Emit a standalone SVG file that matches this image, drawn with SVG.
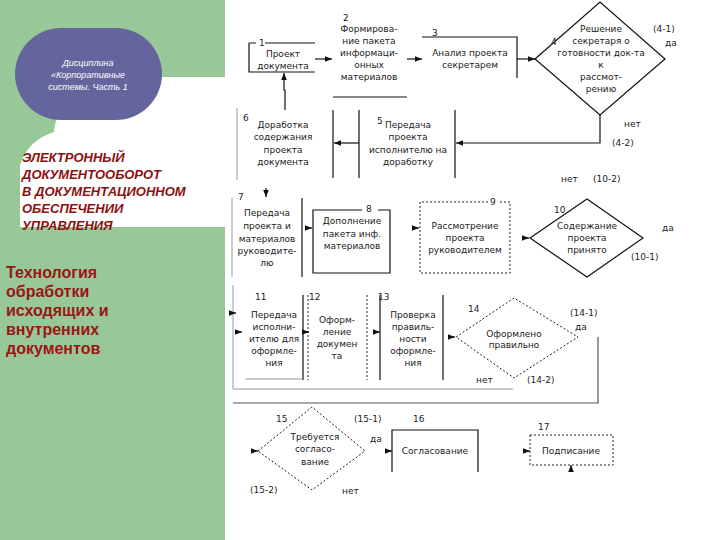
<svg xmlns="http://www.w3.org/2000/svg" width="720" height="540" viewBox="0 0 720 540">
<defs>
<style>
.t{font-family:"DejaVu Sans",Verdana,sans-serif;font-size:9px;fill:#222;text-anchor:middle}
.n{font-family:"DejaVu Sans",Verdana,sans-serif;font-size:9px;fill:#222}
.s{fill:none;stroke:#111;stroke-width:1.2}
.f{fill:none;stroke:#999;stroke-width:1}
.d{fill:none;stroke:#222;stroke-width:1;stroke-dasharray:2,2}
.c{fill:none;stroke:#111;stroke-width:1.2}
.h{font-family:"Liberation Sans",Arial,sans-serif;font-size:13px;font-weight:bold;font-style:italic;fill:#8b1010}
.b{font-family:"Liberation Sans",Arial,sans-serif;font-size:16px;font-weight:bold;fill:#9b1515}
.w{font-family:"Liberation Sans",Arial,sans-serif;font-size:9px;font-style:italic;fill:#fff;text-anchor:middle}
</style>
<marker id="a" viewBox="0 0 10 10" refX="10" refY="5" markerWidth="6" markerHeight="6" orient="auto"><path d="M0,1 L10,5 L0,9 Z" fill="#111"/></marker>
</defs>
<rect x="0" y="0" width="720" height="540" fill="#fff"/>
<g id="left-panel">
<rect x="0" y="0" width="225" height="540" fill="#98c898"/>
<path d="M225,77 H105 C75,77 57,105 54,132 Q28,140 20,165 V227 H225 Z" fill="#fff"/>
<rect x="15" y="28" width="147" height="92" rx="46" ry="46" fill="#65659d"/>
<text class="w" x="88" y="66">Дисциплина</text>
<text class="w" x="88" y="78">«Корпоративные</text>
<text class="w" x="88" y="90">системы. Часть 1</text>
<text class="h" x="22" y="162">ЭЛЕКТРОННЫЙ</text>
<text class="h" x="22" y="179">ДОКУМЕНТООБОРОТ</text>
<text class="h" x="22" y="196">В ДОКУМЕНТАЦИОННОМ</text>
<text class="h" x="22" y="213">ОБЕСПЕЧЕНИИ</text>
<text class="h" x="22" y="230">УПРАВЛЕНИЯ</text>
<text class="b" x="6" y="278">Технология</text>
<text class="b" x="6" y="297">обработки</text>
<text class="b" x="6" y="316">исходящих и</text>
<text class="b" x="6" y="335">внутренних</text>
<text class="b" x="6" y="354">документов</text>
</g>
<g id="frames">
<path class="f" d="M233,285 V389 H513"/>
<path class="f" d="M233,403 H598 V337" style="stroke:#555;stroke-width:1.2"/>
</g>
<g id="node1">
<path class="s" d="M265,43 H315 M249,43 H256 M249,43 V72 H315"/>
<text class="n" x="259" y="46">1</text>
<text class="t" x="283" y="57">Проект</text>
<text class="t" x="283" y="69">документа</text>
</g>
<g id="node2">
<path class="s" d="M333,97 H407"/>
<text class="n" x="343" y="21">2</text>
<text class="t" x="369" y="32">Формирова-</text>
<text class="t" x="369" y="44">ние пакета</text>
<text class="t" x="369" y="56">информаци-</text>
<text class="t" x="369" y="68">онных</text>
<text class="t" x="369" y="80">материалов</text>
</g>
<g id="node3">
<path class="s" d="M422,37 H517 V78"/>
<text class="n" x="432" y="36">3</text>
<text class="t" x="470" y="56">Анализ проекта</text>
<text class="t" x="470" y="68">секретарем</text>
</g>
<g id="node4">
<path class="s" d="M535,59 L600,2 L665,59 L600,115 Z"/>
<text class="n" x="551" y="45">4</text>
<text class="t" x="601" y="32">Решение</text>
<text class="t" x="601" y="44">секретаря о</text>
<text class="t" x="601" y="56">готовности док-та</text>
<text class="t" x="601" y="68">к</text>
<text class="t" x="601" y="80">рассмот-</text>
<text class="t" x="601" y="92">рению</text>
<text class="n" x="653" y="32">(4-1)</text>
<text class="n" x="665" y="46">да</text>
<text class="n" x="624" y="127">нет</text>
<text class="n" x="612" y="146">(4-2)</text>
</g>
<g id="node5">
<path class="s" d="M359,110 V178 M455,110 V178"/>
<text class="n" x="377" y="124">5</text>
<text class="t" x="408" y="128">Передача</text>
<text class="t" x="408" y="140">проекта</text>
<text class="t" x="408" y="153">исполнителю на</text>
<text class="t" x="408" y="165">доработку</text>
</g>
<g id="node6">
<path class="f" d="M237,108 V180"/>
<path class="s" d="M333,110 V178"/>
<text class="n" x="243" y="121">6</text>
<text class="t" x="283" y="128">Доработка</text>
<text class="t" x="283" y="140">содержания</text>
<text class="t" x="283" y="153">проекта</text>
<text class="t" x="283" y="165">документа</text>
</g>
<g id="node7">
<path class="f" d="M232,198 V277"/>
<path class="s" d="M302,198 V277"/>
<text class="n" x="238" y="200">7</text>
<text class="t" x="267" y="216">Передача</text>
<text class="t" x="267" y="229">проекта и</text>
<text class="t" x="267" y="242">материалов</text>
<text class="t" x="267" y="254">руководите-</text>
<text class="t" x="267" y="266">лю</text>
<text class="n" x="561" y="182">нет</text>
<text class="n" x="593" y="182">(10-2)</text>
</g>
<g id="node8">
<path class="s" d="M362,210 H313 V273 H390 V210 H378"/>
<text class="n" x="366" y="212">8</text>
<text class="t" x="352" y="224">Дополнение</text>
<text class="t" x="352" y="237">пакета инф.</text>
<text class="t" x="352" y="249">материалов</text>
</g>
<g id="node9">
<path class="d" d="M488,202 H420 V273 H510 V202 H500"/>
<text class="n" x="490" y="205">9</text>
<text class="t" x="465" y="229">Рассмотрение</text>
<text class="t" x="465" y="241">проекта</text>
<text class="t" x="465" y="253">руководителем</text>
</g>
<g id="node10">
<path class="s" d="M530,238 L587,199 L643,238 L587,277 Z"/>
<text class="n" x="554" y="213">10</text>
<text class="t" x="587" y="229">Содержание</text>
<text class="t" x="587" y="241">проекта</text>
<text class="t" x="587" y="253">принято</text>
<text class="n" x="662" y="231">да</text>
<text class="n" x="631" y="260">(10-1)</text>
</g>
<g id="node11">
<path class="s" d="M303,295 V380"/>
<path class="f" d="M245,379 H303"/>
<text class="n" x="255" y="300">11</text>
<text class="t" x="274" y="318">Передача</text>
<text class="t" x="274" y="330">исполни-</text>
<text class="t" x="274" y="342">ителю для</text>
<text class="t" x="274" y="354">оформле-</text>
<text class="t" x="274" y="366">ния</text>
</g>
<g id="node12">
<path class="d" d="M308,295 V380 M367,295 V380"/>
<text class="n" x="309" y="300">12</text>
<text class="t" x="337" y="323">Оформ-</text>
<text class="t" x="337" y="335">ление</text>
<text class="t" x="337" y="347">докумен</text>
<text class="t" x="337" y="359">та</text>
</g>
<g id="node13">
<path class="s" d="M380,295 V380 M443,295 V380"/>
<text class="n" x="378" y="300">13</text>
<text class="t" x="413" y="318">Проверка</text>
<text class="t" x="413" y="330">правиль-</text>
<text class="t" x="413" y="342">ности</text>
<text class="t" x="413" y="354">оформле-</text>
<text class="t" x="413" y="366">ния</text>
</g>
<g id="node14">
<path class="d" d="M456,337 L514,298 L578,337 L514,378 Z"/>
<text class="n" x="468" y="312">14</text>
<text class="t" x="514" y="337">Оформлено</text>
<text class="t" x="514" y="348">правильно</text>
<text class="n" x="570" y="316">(14-1)</text>
<text class="n" x="575" y="330">да</text>
<text class="n" x="476" y="383">нет</text>
<text class="n" x="527" y="383">(14-2)</text>
</g>
<g id="node15">
<path class="d" d="M258,451 L312,407 L365,451 L312,490 Z"/>
<text class="n" x="276" y="422">15</text>
<text class="t" x="315" y="440">Требуется</text>
<text class="t" x="315" y="452">согласо-</text>
<text class="t" x="315" y="465">вание</text>
<text class="n" x="354" y="422">(15-1)</text>
<text class="n" x="370" y="442">да</text>
<text class="n" x="250" y="493">(15-2)</text>
<text class="n" x="342" y="494">нет</text>
</g>
<g id="node16">
<path class="s" d="M392,472 V430 H478 V472"/>
<text class="n" x="413" y="422">16</text>
<text class="t" x="435" y="454">Согласование</text>
</g>
<g id="node17">
<path class="d" d="M530,435 H613 V465 H530 Z"/>
<text class="n" x="538" y="430">17</text>
<text class="t" x="571" y="454">Подписание</text>
</g>
<g id="connectors">
<path class="c" d="M315,59 H332" marker-end="url(#a)"/>
<path class="c" d="M407,59 H422" marker-end="url(#a)"/>
<path class="c" d="M517,59 H535" marker-end="url(#a)"/>
<path class="c" d="M600,115 V143 H456" marker-end="url(#a)"/>
<path class="c" d="M359,143 H334" marker-end="url(#a)"/>
<path class="c" d="M285,110 V90 H284 V73" marker-end="url(#a)"/>
<path class="c" d="M266,188 V197" marker-end="url(#a)"/>
<path class="c" d="M305,228 H312" marker-end="url(#a)"/>
<path class="c" d="M413,228 H419" marker-end="url(#a)"/>
<path class="c" d="M523,238 H529" marker-end="url(#a)"/>
<path class="c" d="M229,313 H236" marker-end="url(#a)"/>
<path class="c" d="M235,332 H242" marker-end="url(#a)"/>
<path class="c" d="M304,332 H309" marker-end="url(#a)"/>
<path class="c" d="M374,332 H380" marker-end="url(#a)"/>
<path class="c" d="M449,337 H455" marker-end="url(#a)"/>
<path class="c" d="M252,451 H258" marker-end="url(#a)"/>
<path class="c" d="M386,451 H392" marker-end="url(#a)"/>
<path class="c" d="M524,451 H530" marker-end="url(#a)"/>
<path class="c" d="M571,471 V465" marker-end="url(#a)"/>
</g>
</svg>
